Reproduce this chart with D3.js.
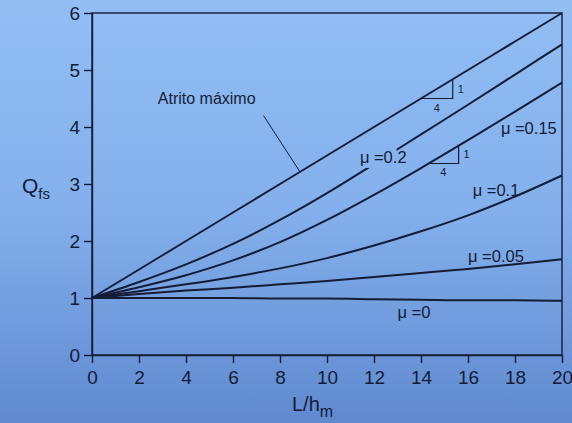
<!DOCTYPE html>
<html>
<head>
<meta charset="utf-8">
<script src="https://cdn.jsdelivr.net/npm/d3@7"></script>
<style>
  body { margin: 0; background: #7fa9e6; }
  svg { display: block; }
  text { font-family: "Liberation Sans", Arial, sans-serif; fill: #141c36; }
</style>
</head>
<body>
<svg id="chart"></svg>
<script>
// data
const xValues = [0, 2, 4, 6, 8, 10, 12, 14, 16, 18, 20]
const atritoMax = [1, 1.5, 2, 2.5, 3, 3.5, 4, 4.5, 5, 5.5, 6]
const mu02 = [1, 1.28, 1.59, 1.95, 2.37, 2.84, 3.35, 3.87, 4.39, 4.92, 5.45]
const mu015 = [1, 1.19, 1.4, 1.66, 1.98, 2.37, 2.81, 3.28, 3.77, 4.27, 4.78]
const mu01 = [1, 1.12, 1.24, 1.37, 1.52, 1.7, 1.92, 2.17, 2.45, 2.78, 3.15]
const mu005 = [1, 1.07, 1.13, 1.18, 1.24, 1.3, 1.37, 1.44, 1.51, 1.59, 1.68]
const mu0 = [1, 1, 1, 1, 0.99, 0.99, 0.98, 0.97, 0.96, 0.96, 0.95]

const xTickValues = [0, 2, 4, 6, 8, 10, 12, 14, 16, 18, 20]
const yTickValues = [0, 1, 2, 3, 4, 5, 6]

const seriesNames = ["Atrito máximo", "μ =0.2", "μ =0.15", "μ =0.1", "μ =0.05", "μ =0"]
const seriesValues = [atritoMax, mu02, mu015, mu01, mu005, mu0]

const width = 572
const height = 423
const margin = { top: 13, right: 10, bottom: 68, left: 92 }

const ink = "#141c36"

let svg = d3.select("#chart")
  .attr("width", width)
  .attr("height", height)

// photo-ish background
let defs = svg.append("defs")
let grad = defs.append("linearGradient")
  .attr("id", "bg")
  .attr("x1", 0).attr("y1", 0).attr("x2", 0).attr("y2", 1)
grad.append("stop").attr("offset", "0%").attr("stop-color", "#92bef4")
grad.append("stop").attr("offset", "50%").attr("stop-color", "#83b0ec")
grad.append("stop").attr("offset", "100%").attr("stop-color", "#6089cf")

svg.append("rect")
  .attr("width", width)
  .attr("height", height)
  .attr("fill", "url(#bg)")

let x = d3.scaleLinear()
  .domain([0, 20])
  .range([margin.left, width - margin.right])

let y = d3.scaleLinear()
  .domain([0, 6])
  .range([height - margin.bottom, margin.top])

// frame
svg.append("rect")
  .attr("x", x(0))
  .attr("y", y(6))
  .attr("width", x(20) - x(0))
  .attr("height", y(0) - y(6))
  .attr("fill", "none")
  .attr("stroke", ink)
  .attr("stroke-width", 1.4)

let xAxis = d3.axisBottom(x)
  .tickValues(xTickValues)
  .tickFormat(d3.format("d"))
  .tickSize(8)
  .tickSizeOuter(0)
  .tickPadding(8)

let yAxis = d3.axisLeft(y)
  .tickValues(yTickValues)
  .tickFormat(d3.format("d"))
  .tickSize(8)
  .tickSizeOuter(0)
  .tickPadding(4)

let gx = svg.append("g")
  .attr("transform", "translate(0," + y(0) + ")")
  .call(xAxis)

let gy = svg.append("g")
  .attr("transform", "translate(" + x(0) + ",0)")
  .call(yAxis)

;[gx, gy].forEach(function(g) {
  g.select(".domain").attr("stroke", ink).attr("stroke-width", 1.4)
  g.selectAll(".tick line").attr("stroke", ink).attr("stroke-width", 1.4)
  g.selectAll(".tick text")
    .attr("fill", ink)
    .style("font-size", "19px")
    .style("font-family", "Liberation Sans, Arial, sans-serif")
})

// axis titles
let qLabel = svg.append("text")
  .attr("x", 22)
  .attr("y", 193)
  .style("font-size", "21px")
qLabel.append("tspan").text("Q")
qLabel.append("tspan").attr("dy", 6).style("font-size", "15px").text("fs")

let lLabel = svg.append("text")
  .attr("x", 292)
  .attr("y", 411)
  .style("font-size", "20px")
lLabel.append("tspan").text("L/h")
lLabel.append("tspan").attr("dy", 6).style("font-size", "16px").text("m")

// curve labels (positions in data units)
let labels = [
  { text: "Atrito máximo", x: 2.8, y: 4.4, size: 16 },
  { text: "μ =0.2", x: 11.4, y: 3.37, size: 16.5 },
  { text: "μ =0.15", x: 17.4, y: 3.88, size: 16.5 },
  { text: "μ =0.1", x: 16.2, y: 2.79, size: 16.5 },
  { text: "μ =0.05", x: 16.0, y: 1.63, size: 16.5 },
  { text: "μ =0", x: 13.0, y: 0.65, size: 16.5 }
]

let labelNodes = svg.append("g")
  .selectAll("text")
  .data(labels)
  .enter()
  .append("text")
  .attr("x", function(d) { return x(d.x) })
  .attr("y", function(d) { return y(d.y) })
  .style("font-size", function(d) { return d.size + "px" })
  .text(function(d) { return d.text })

// gap in the μ=0.2 line under its label
let box = labelNodes.filter(function(d) { return d.text === "μ =0.2" }).node().getBBox()
let mask = defs.append("mask").attr("id", "gap")
mask.append("rect").attr("width", width).attr("height", height).attr("fill", "white")
mask.append("rect")
  .attr("x", box.x + 2)
  .attr("y", box.y - 2)
  .attr("width", box.width - 12)
  .attr("height", box.height + 4)
  .attr("fill", "black")

let line = d3.line()
  .x(function(d) { return x(d[0]) })
  .y(function(d) { return y(d[1]) })
  .curve(d3.curveMonotoneX)

svg.append("g")
  .selectAll("path")
  .data(seriesValues)
  .enter()
  .append("path")
  .attr("d", function(vals) {
    return line(vals.map(function(v, i) { return [xValues[i], v] }))
  })
  .attr("fill", "none")
  .attr("stroke", ink)
  .attr("stroke-width", 2)
  .attr("mask", function(vals, i) { return seriesNames[i] === "μ =0.2" ? "url(#gap)" : null })

// leader line for "Atrito máximo"
svg.append("line")
  .attr("x1", x(7.3))
  .attr("y1", y(4.2))
  .attr("x2", x(8.85))
  .attr("y2", y(1 + 8.85 / 4))
  .attr("stroke", ink)
  .attr("stroke-width", 1)

// slope triangles 1:4
let triangles = [
  { x0: 14.0, y0: 4.5, run: 1.35 },
  { x0: 14.3, y0: 3.36, run: 1.3 }
]

triangles.forEach(function(t) {
  let rise = t.run / 4
  svg.append("path")
    .attr("d", "M" + x(t.x0) + "," + y(t.y0) +
      "H" + x(t.x0 + t.run) +
      "V" + y(t.y0 + rise))
    .attr("fill", "none")
    .attr("stroke", ink)
    .attr("stroke-width", 1.2)
  svg.append("text")
    .attr("x", x(t.x0 + t.run) + 5)
    .attr("y", y(t.y0 + rise / 2) + 4)
    .style("font-size", "11px")
    .text("1")
  svg.append("text")
    .attr("x", x(t.x0 + t.run / 2))
    .attr("y", y(t.y0) + 13)
    .attr("text-anchor", "middle")
    .style("font-size", "11px")
    .text("4")
})
</script>
</body>
</html>
